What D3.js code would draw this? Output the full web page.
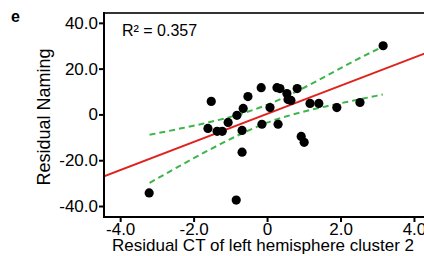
<!DOCTYPE html>
<html>
<head>
<meta charset="utf-8">
<script src="https://cdn.jsdelivr.net/npm/d3@7"></script>
<style>
  body { margin: 0; background: #fff; }
  svg { display: block; font-family: "Liberation Sans", Arial, sans-serif; }
</style>
</head>
<body>
<svg id="chart"></svg>
<script>
// residual CT (x) vs residual naming (y)
var ctResid = [-3.21, -0.84, -1.52, -1.61, -1.36, -1.22, -1.06, -0.82, -0.65, -0.52,
               -0.68, -0.68, -0.16, 0.27, 0.35, 0.82, 0.54, 0.57, 0.65, 0.08,
               -0.14, 0.30, 0.93, 1.01, 1.17, 1.41, 1.90, 2.53, 3.16];
var namingResid = [-34.3, -37.4, 5.7, -6.1, -7.4, -7.4, -3.5, -0.4, 2.6, 7.8,
                   -7.0, -16.5, 11.7, 11.7, 11.3, 11.3, 9.1, 6.5, 6.1, 3.0,
                   -4.3, -4.3, -9.6, -12.2, 4.8, 4.8, 3.0, 5.2, 30.0];

// fit line ends and confidence band
var fitX = [-4.44, 4.6];
var fitY = [-27.0, 28.5];
var bandX = [-3.2, -2.4, -1.6, -0.8, 0, 0.8, 1.6, 2.4, 3.15];
var bandUpper = [-8.9, -6.3, -3.5, -0.2, 4.2, 10.0, 16.7, 23.6, 29.6];
var bandLower = [-29.9, -22.7, -15.7, -9.2, -3.6, 0.4, 3.5, 6.2, 8.7];

var xTicks = [-4, -2, 0, 2, 4];
var yTicks = [-40, -20, 0, 20, 40];
var r2Label = "R\u00b2 = 0.357";

var width = 424, height = 256;
var m = { left: 104, top: 13, bottom: 217, right: 436 };

var svg = d3.select("#chart").attr("width", width).attr("height", height);

var x = d3.scaleLinear().domain([-4.44, 4.6]).range([m.left, m.right]);
var y = d3.scaleLinear().domain([-44.8, 44.3]).range([m.bottom, m.top]);

function fmt(v) {
  if (v === 0) return "0";
  return (v < 0 ? "-" : "") + Math.abs(v).toFixed(1);
}

svg.append("clipPath").attr("id", "plotclip")
  .append("rect").attr("x", m.left).attr("y", m.top)
  .attr("width", m.right - m.left).attr("height", m.bottom - m.top);

// frame top
svg.append("line")
  .attr("x1", m.left).attr("x2", m.right).attr("y1", m.top).attr("y2", m.top)
  .attr("stroke", "#333").attr("stroke-width", 2);

var plot = svg.append("g").attr("clip-path", "url(#plotclip)");

// confidence band (dashed green)
var bandLine = d3.line().curve(d3.curveMonotoneX);
[bandUpper, bandLower].forEach(function (vals) {
  plot.append("path")
    .attr("d", bandLine(bandX.map(function (d, i) { return [x(d), y(vals[i])]; })))
    .attr("fill", "none")
    .attr("stroke", "#3cb54a")
    .attr("stroke-width", 2)
    .attr("stroke-dasharray", "6,4");
});

// regression line
plot.append("path")
  .attr("d", d3.line()(fitX.map(function (d, i) { return [x(d), y(fitY[i])]; })))
  .attr("fill", "none")
  .attr("stroke", "#e0221c")
  .attr("stroke-width", 2);

// points
plot.selectAll("circle")
  .data(ctResid)
  .enter()
  .append("circle")
    .attr("cx", function (d) { return x(d); })
    .attr("cy", function (d, i) { return y(namingResid[i]); })
    .attr("r", 4.6)
    .attr("fill", "#000");

// axes
var xAxis = svg.append("g")
  .attr("transform", "translate(0," + m.bottom + ")")
  .call(d3.axisBottom(x).tickValues(xTicks).tickFormat(fmt).tickSize(5).tickSizeOuter(0));
var yAxis = svg.append("g")
  .attr("transform", "translate(" + m.left + ",0)")
  .call(d3.axisLeft(y).tickValues(yTicks).tickFormat(fmt).tickSize(5).tickSizeOuter(0));

[xAxis, yAxis].forEach(function (ax) {
  ax.select(".domain").attr("stroke", "#000").attr("stroke-width", 2);
  ax.selectAll(".tick line").attr("stroke", "#000").attr("stroke-width", 2);
  ax.selectAll(".tick text")
    .attr("fill", "#000")
    .style("font-size", "17px")
    .style("font-family", "'Liberation Sans', Arial, sans-serif");
});
yAxis.selectAll(".tick text").attr("x", -6);
xAxis.selectAll(".tick text").attr("y", 6);
// left domain meets the top frame and the bottom axis
yAxis.select(".domain").attr("d", "M0," + (m.top - 1) + "V" + (m.bottom + 1));
xAxis.select(".domain").attr("d", "M" + (m.left - 1) + ",0H" + m.right);

// titles
svg.append("text")
  .attr("x", 112).attr("y", 251)
  .style("font-size", "17px")
  .text("Residual CT of left hemisphere cluster 2");

svg.append("text")
  .attr("transform", "translate(50,117) rotate(-90)")
  .attr("text-anchor", "middle")
  .style("font-size", "18px")
  .text("Residual Naming");

svg.append("text")
  .attr("x", 122).attr("y", 36)
  .style("font-size", "16px")
  .text(r2Label);

svg.append("text")
  .attr("x", 11).attr("y", 22)
  .style("font-size", "16px")
  .style("font-weight", "bold")
  .text("e");
</script>
</body>
</html>
